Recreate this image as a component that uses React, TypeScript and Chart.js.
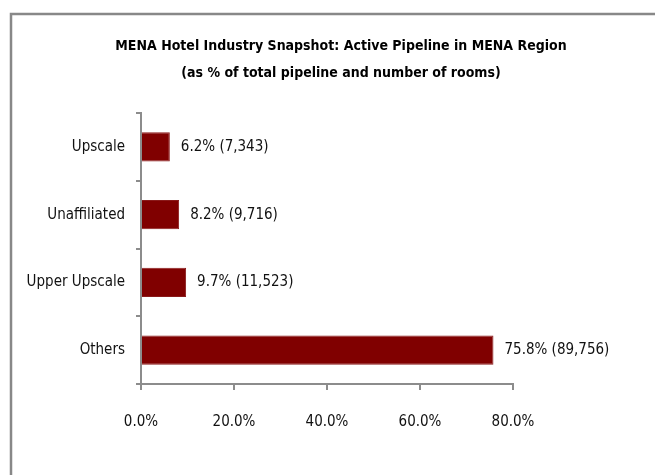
import React, { useEffect, useRef } from "react";
import { Chart, registerables } from "chart.js";

Chart.register(...registerables);

const categories = ["Upscale", "Unaffiliated", "Upper Upscale", "Others"];
const sharePct = [6.2, 8.2, 9.7, 75.8];
const rooms = ["7,343", "9,716", "11,523", "89,756"];
const titleLines = [
  "MENA Hotel Industry Snapshot: Active Pipeline in MENA Region",
  "(as % of total pipeline and number of rooms)",
];
const xTicks = [0, 20, 40, 60, 80];

const FONT = "'Liberation Sans Narrow', 'DejaVu Sans Condensed', sans-serif";
const AXIS = "#8c8c8c";

const framePlugin = {
  id: "frame",
  beforeDraw(chart: any) {
    const ctx = chart.ctx;
    ctx.save();
    ctx.fillStyle = "#ffffff";
    ctx.fillRect(0, 0, chart.width, chart.height);
    ctx.strokeStyle = "#888888";
    ctx.lineWidth = 2.5;
    ctx.strokeRect(11, 14, chart.width + 40, chart.height + 40);
    ctx.fillStyle = "#000000";
    ctx.font = `bold 14px ${FONT}`;
    ctx.textAlign = "center";
    ctx.textBaseline = "middle";
    ctx.fillText(titleLines[0], 341, 46);
    ctx.fillText(titleLines[1], 341, 73);
    ctx.restore();
  },
};

const labelPlugin = {
  id: "barLabels",
  afterDatasetsDraw(chart: any) {
    const ctx = chart.ctx;
    const meta = chart.getDatasetMeta(0);
    ctx.save();
    ctx.fillStyle = "#111111";
    ctx.font = `15px ${FONT}`;
    ctx.textAlign = "left";
    ctx.textBaseline = "middle";
    meta.data.forEach((bar: any, i: number) => {
      const txt = `${sharePct[i].toFixed(1)}% (${rooms[i]})`;
      ctx.fillText(txt, bar.x + 11, bar.y);
    });
    ctx.restore();
  },
};

export default function App() {
  const ref = useRef<HTMLCanvasElement>(null);
  useEffect(() => {
    if (!ref.current) return;
    const chart = new Chart(ref.current, {
      type: "bar",
      data: {
        labels: categories,
        datasets: [
          {
            data: sharePct,
            backgroundColor: "#800000",
            borderColor: "#8a1a1a",
            borderWidth: 1,
            barPercentage: 0.43,
            categoryPercentage: 1,
          },
        ],
      },
      options: {
        indexAxis: "y",
        animation: false,
        responsive: false,
        maintainAspectRatio: false,
        layout: { padding: { top: 113, right: 142, left: 0, bottom: 0 } },
        plugins: {
          legend: { display: false },
          title: { display: false },
          tooltip: { enabled: false },
        },
        scales: {
          x: {
            min: 0,
            max: 80,
            afterBuildTicks: (s: any) => {
              s.ticks = xTicks.map((v) => ({ value: v }));
            },
            afterFit: (s: any) => {
              s.height = 91;
            },
            ticks: {
              color: "#111111",
              font: { family: FONT, size: 15 },
              padding: 23,
              callback: (v: any) => Number(v).toFixed(1) + "%",
            },
            grid: {
              drawOnChartArea: false,
              color: AXIS,
              lineWidth: 2,
              tickLength: 6,
            },
            border: { color: AXIS, width: 2 },
          },
          y: {
            afterFit: (s: any) => {
              s.width = 141;
            },
            ticks: {
              color: "#111111",
              font: { family: FONT, size: 15 },
              padding: 11,
            },
            grid: {
              drawOnChartArea: false,
              offset: true,
              color: AXIS,
              lineWidth: 2,
              tickLength: 5,
            },
            border: { color: AXIS, width: 2 },
          },
        },
      },
      plugins: [framePlugin, labelPlugin],
    });
    return () => chart.destroy();
  }, []);
  return (
    <div style={{ position: "fixed", left: 0, top: 0, width: 655, height: 475, background: "#fff" }}>
      <canvas ref={ref} width={655} height={475} style={{ display: "block" }} />
    </div>
  );
}
